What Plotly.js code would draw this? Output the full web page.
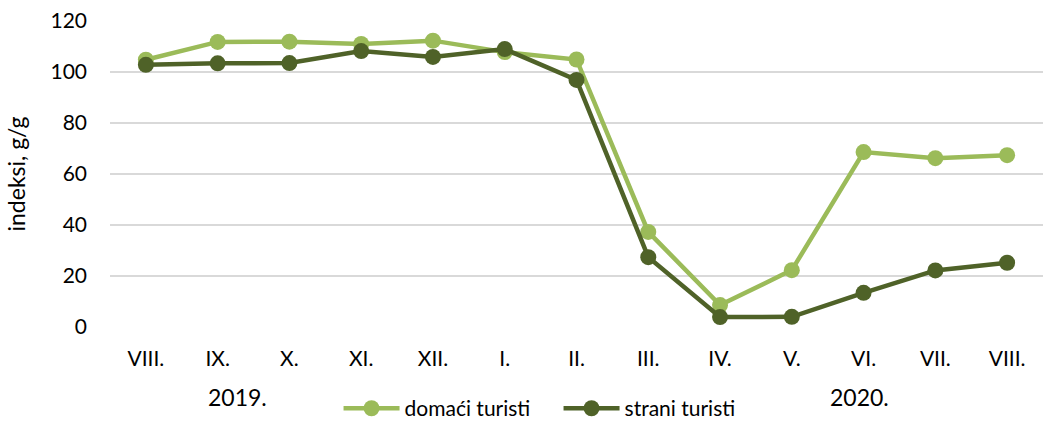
<!DOCTYPE html>
<html>
<head>
<meta charset="utf-8">
<script src="https://cdn.plot.ly/plotly-3.0.1.min.js"></script>
<style>
  html, body { margin: 0; padding: 0; background: #fff; }
  #plot { width: 1044px; height: 423px; }
</style>
</head>
<body>
<div id="plot"></div>
<script>
// months from VIII. 2019 to VIII. 2020
const months = ["VIII.", "IX.", "X.", "XI.", "XII.", "I.", "II.", "III.", "IV.", "V.", "VI.", "VII.", "VIII."];
const domaci = [104.8, 111.8, 111.9, 111.0, 112.3, 107.8, 104.9, 37.3, 8.6, 22.3, 68.6, 66.2, 67.4];
const strani = [102.8, 103.4, 103.5, 108.2, 105.9, 109.0, 96.9, 27.4, 3.9, 4.0, 13.4, 22.2, 25.2];
const years = ["2019.", "2020."];

document.addEventListener("DOMContentLoaded", () => {
    const plotDiv = document.getElementById("plot");
    const font = "Lato, 'Open Sans', sans-serif";
    // use index positions so two "VIII." ticks stay separate
    const idx = months.map((m, i) => i);

    const traces = [
        {
            x: idx, y: domaci, name: "domaći turisti",
            mode: "lines+markers",
            line: { color: "#9BBB59", width: 4.5 },
            marker: { color: "#9BBB59", size: 16 }
        },
        {
            x: idx, y: strani, name: "strani turisti",
            mode: "lines+markers",
            line: { color: "#4F6228", width: 4.5 },
            marker: { color: "#4F6228", size: 16 }
        }
    ];

    const layout = {
        width: 1044, height: 423,
        margin: { l: 110, r: 1, t: 21, b: 96, autoexpand: false },
        paper_bgcolor: "#fff", plot_bgcolor: "#fff",
        font: { family: font, size: 21, color: "#000" },
        showlegend: true,
        legend: {
            orientation: "h", x: 0.535, xref: "container", xanchor: "center",
            y: 0.034, yref: "container", yanchor: "middle",
            font: { family: font, size: 21 }, itemwidth: 56, tracegroupgap: 0,
            entrywidth: 149, entrywidthmode: "pixels"
        },
        xaxis: {
            range: [-0.5, 12.5],
            tickvals: idx, ticktext: months,
            showgrid: false, zeroline: false, showline: false,
            ticks: "", ticklabelstandoff: 17, automargin: false,
            fixedrange: true
        },
        yaxis: {
            title: { text: "indeksi, g/g", font: { family: font, size: 23 }, standoff: 18 },
            range: [0, 120], tickvals: [0, 20, 40, 60, 80, 100, 120],
            showgrid: true, gridcolor: "#d9d9d9", gridwidth: 1.5, automargin: false,
            zeroline: false, showline: false, ticks: "", ticklabelstandoff: 22
        },
        annotations: [
            { text: years[0], x: 1.28, xref: "x", y: -0.229, yref: "paper", showarrow: false, yanchor: "middle", font: { family: font, size: 23 } },
            { text: years[1], x: 9.95, xref: "x", y: -0.229, yref: "paper", showarrow: false, yanchor: "middle", font: { family: font, size: 23 } }
        ]
    };

    Plotly.newPlot(plotDiv, traces, layout, { displayModeBar: false, staticPlot: true });
});
</script>
</body>
</html>
